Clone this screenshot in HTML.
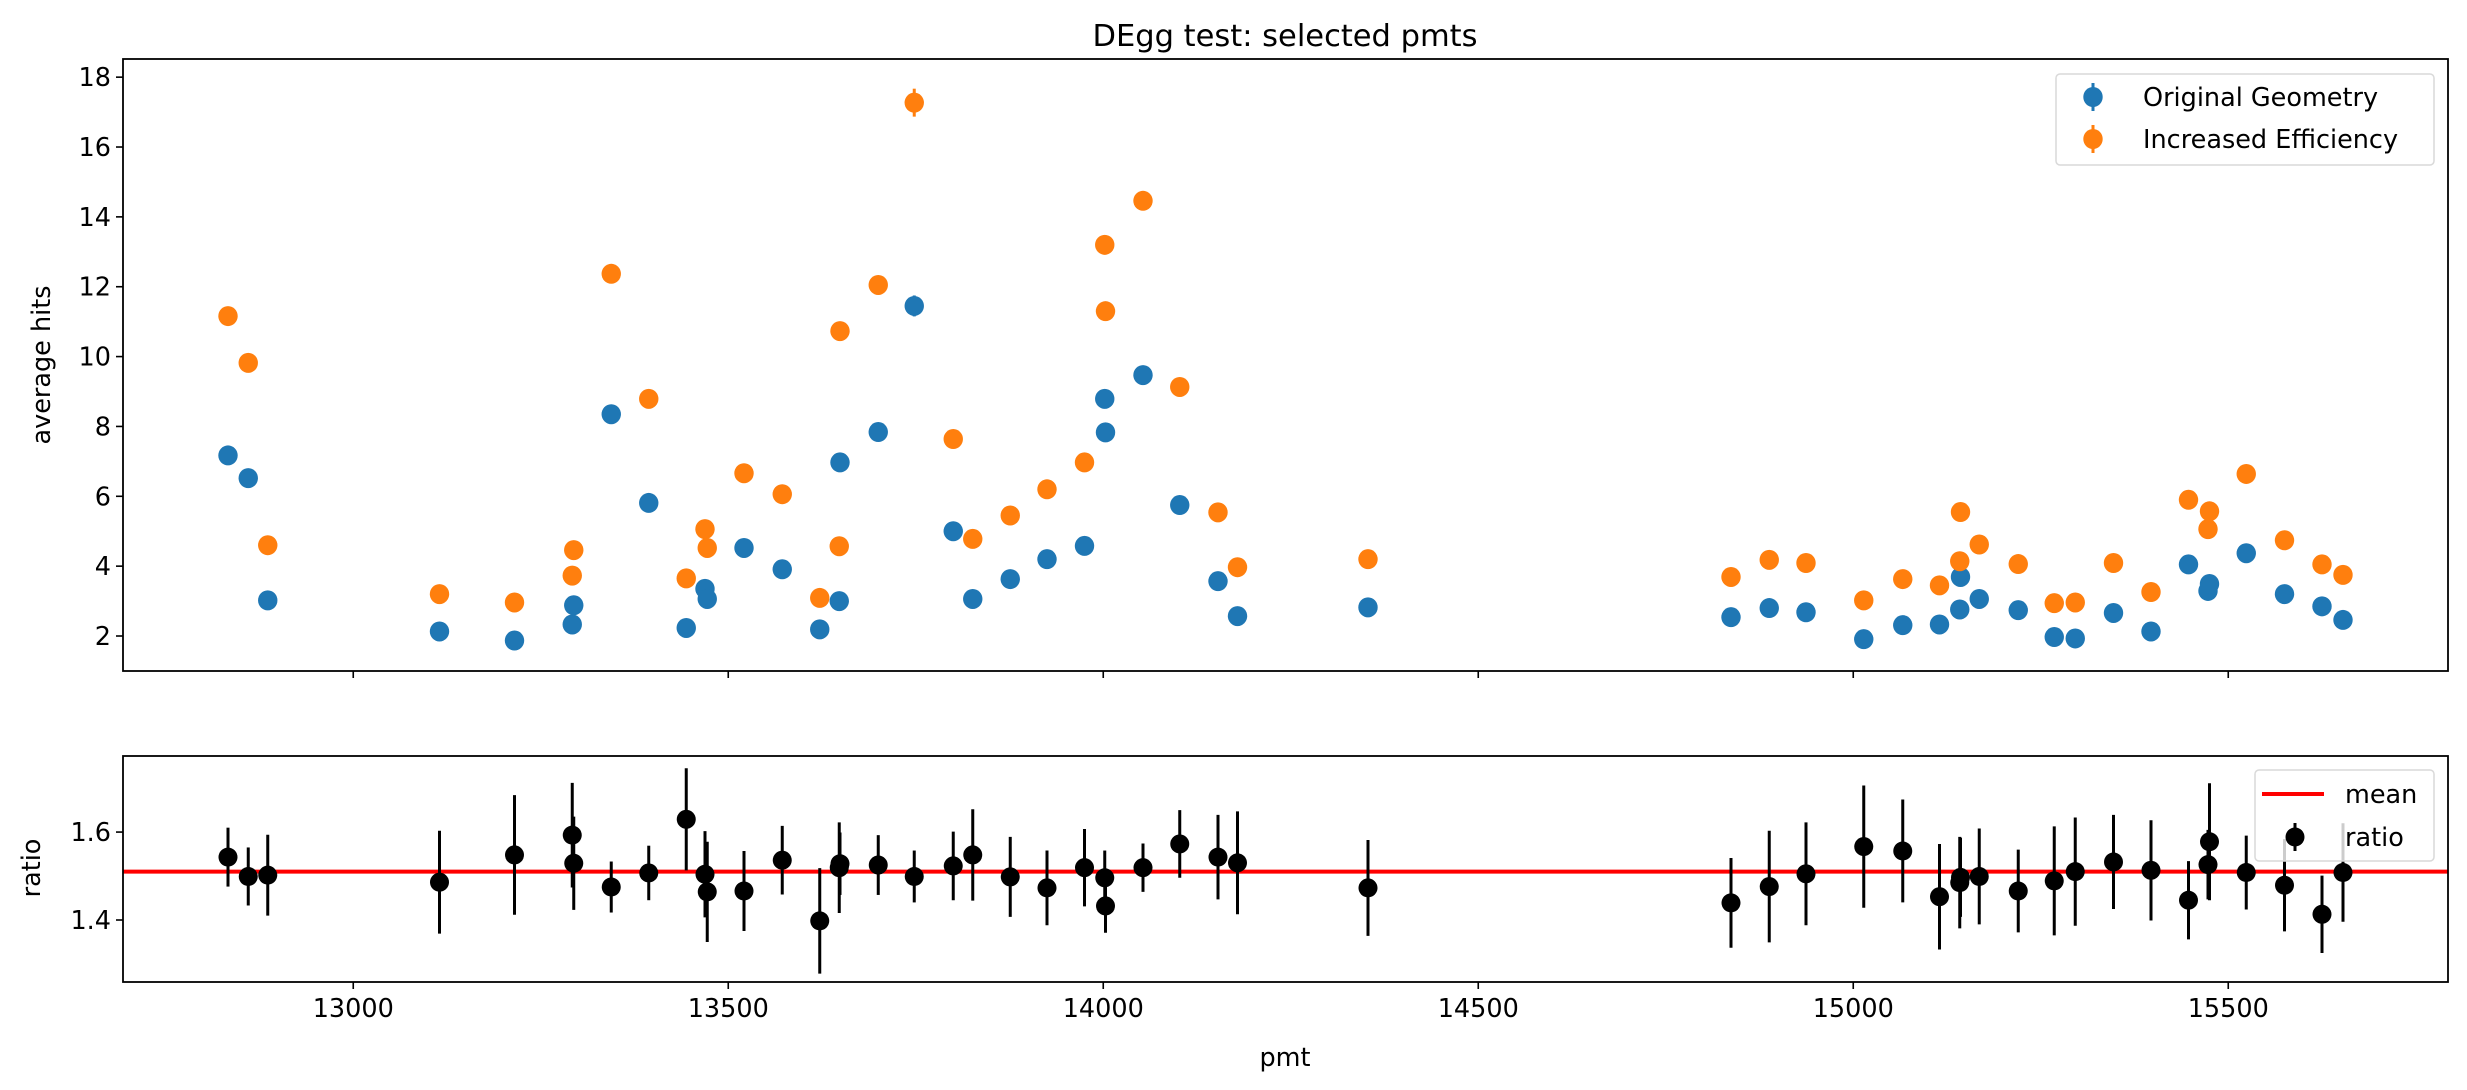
<!DOCTYPE html>
<html><head><meta charset="utf-8"><style>
html,body{margin:0;padding:0;background:#fff;}
svg{display:block;font-family:"DejaVu Sans","Liberation Sans",sans-serif;}
</style></head><body>
<svg id="chart" width="2467" height="1090" viewBox="0 0 2467 1090" xmlns="http://www.w3.org/2000/svg">
<rect x="0" y="0" width="2467" height="1090" fill="#fff"/>
<text x="1285" y="46" font-size="30.5" text-anchor="middle">DEgg test: selected pmts</text>
<text transform="translate(50,365) rotate(-90)" font-size="25.5" text-anchor="middle">average hits</text>
<text transform="translate(40,868) rotate(-90)" font-size="25.5" text-anchor="middle">ratio</text>
<text x="1285" y="1066" font-size="25.5" text-anchor="middle">pmt</text>
<g id="topAxes"></g>
<g id="botAxes"></g>
</svg>
<script>
const pmts = [12833,12860,12886,13115,13215,13292,13294,13344,13394,13444,13469,13472,13521,13572,13622,13648,13649,13700,13748,13800,13826,13876,13925,13975,14002,14003,14053,14102,14153,14179,14353,14837,14888,14937,15014,15066,15115,15142,15143,15168,15220,15268,15296,15347,15397,15447,15473,15475,15524,15575,15625,15653];
const origHits = [7.17,6.52,3.02,2.13,1.87,2.33,2.88,8.35,5.81,2.23,3.35,3.06,4.52,3.91,2.19,3.0,6.97,7.84,11.45,5.0,3.06,3.63,4.2,4.58,8.79,7.83,9.47,5.75,3.57,2.57,2.82,2.54,2.8,2.68,1.91,2.31,2.33,2.76,3.69,3.06,2.74,1.97,1.93,2.66,2.13,4.05,3.29,3.49,4.37,3.2,2.85,2.46];
const origErr = [0.12,0.1,0.06,0.05,0.05,0.05,0.06,0.15,0.1,0.05,0.06,0.06,0.08,0.07,0.05,0.06,0.12,0.14,0.3,0.09,0.06,0.07,0.08,0.08,0.15,0.14,0.15,0.1,0.07,0.05,0.06,0.05,0.06,0.05,0.05,0.05,0.05,0.06,0.07,0.06,0.05,0.05,0.05,0.05,0.05,0.07,0.06,0.07,0.08,0.06,0.06,0.05];
const incHits = [11.16,9.82,4.6,3.2,2.96,3.73,4.46,12.37,8.79,3.65,5.06,4.52,6.66,6.06,3.09,4.57,10.73,12.05,17.27,7.64,4.78,5.45,6.2,6.97,13.2,11.3,14.46,9.13,5.54,3.97,4.2,3.69,4.18,4.09,3.02,3.63,3.45,4.14,5.55,4.62,4.06,2.94,2.96,4.09,3.26,5.9,5.06,5.57,6.64,4.74,4.05,3.75];
const incErr = [0.22,0.18,0.08,0.07,0.07,0.08,0.09,0.2,0.14,0.07,0.1,0.09,0.12,0.11,0.07,0.09,0.18,0.25,0.4,0.13,0.09,0.1,0.11,0.12,0.28,0.25,0.25,0.15,0.1,0.08,0.08,0.07,0.08,0.08,0.06,0.07,0.07,0.08,0.1,0.09,0.08,0.06,0.06,0.08,0.07,0.11,0.1,0.1,0.12,0.09,0.08,0.07];
const ratioVals = [1.543,1.499,1.502,1.486,1.548,1.593,1.529,1.475,1.507,1.629,1.504,1.464,1.466,1.536,1.398,1.519,1.528,1.525,1.499,1.523,1.548,1.498,1.473,1.519,1.496,1.432,1.519,1.573,1.543,1.53,1.473,1.439,1.476,1.505,1.567,1.557,1.453,1.485,1.497,1.499,1.466,1.489,1.51,1.532,1.513,1.445,1.526,1.578,1.508,1.479,1.413,1.508];
const ratioErr = [0.067,0.066,0.092,0.117,0.136,0.119,0.106,0.058,0.062,0.116,0.098,0.114,0.091,0.078,0.12,0.103,0.071,0.068,0.059,0.078,0.104,0.091,0.085,0.088,0.062,0.061,0.055,0.077,0.096,0.117,0.109,0.102,0.127,0.117,0.139,0.117,0.12,0.104,0.09,0.109,0.094,0.124,0.123,0.107,0.114,0.089,0.079,0.133,0.084,0.105,0.088,0.112];
const meanRatio = 1.51;
const xTicks = [13000,13500,14000,14500,15000,15500];
const yTicksTop = [2,4,6,8,10,12,14,16,18];
const yTicksBot = [1.4,1.6];

const NS = "http://www.w3.org/2000/svg";
const L = 123, R = 2448;
const X0 = 12693, X1 = 15793;
const T1 = 59, B1 = 671, Y1min = 0.998, Y1max = 18.52;
const T2 = 756, B2 = 982, Y2min = 1.259, Y2max = 1.773;
const FS = 25.5;
const xs = v => L + (v - X0) / (X1 - X0) * (R - L);
const ys1 = v => B1 - (v - Y1min) / (Y1max - Y1min) * (B1 - T1);
const ys2 = v => B2 - (v - Y2min) / (Y2max - Y2min) * (B2 - T2);

function mk(tag, attrs, parent) {
  const e = document.createElementNS(NS, tag);
  for (const k in attrs) e.setAttribute(k, attrs[k]);
  parent.appendChild(e);
  return e;
}
const gTop = document.getElementById('topAxes');
const gBot = document.getElementById('botAxes');

for (const t of yTicksTop) {
  const y = ys1(t);
  const tk = mk('line', {x1: L - 7, x2: L, y1: y, y2: y, stroke: '#000', 'stroke-width': 1.6}, gTop);
  
  
  const tx = mk('text', {x: L - 12, y: y + 9, 'font-size': FS, 'text-anchor': 'end'}, gTop);
  tx.textContent = String(t);
  
  
}
for (const t of yTicksBot) {
  const y = ys2(t);
  const tk = mk('line', {x1: L - 7, x2: L, y1: y, y2: y, stroke: '#000', 'stroke-width': 1.6}, gBot);
  
  
  const tx = mk('text', {x: L - 12, y: y + 9, 'font-size': FS, 'text-anchor': 'end'}, gBot);
  tx.textContent = t.toFixed(1);
  
  
}
for (const t of xTicks) {
  const x = xs(t);
  const a = mk('line', {x1: x, x2: x, y1: B1, y2: B1 + 7, stroke: '#000', 'stroke-width': 1.6}, gTop);
  
  
  const b = mk('line', {x1: x, x2: x, y1: B2, y2: B2 + 7, stroke: '#000', 'stroke-width': 1.6}, gBot);
  
  
  const tx = mk('text', {x: x, y: B2 + 35, 'font-size': FS, 'text-anchor': 'middle'}, gBot);
  tx.textContent = String(t);
  
  
}

function series(vals, errs, color, name) {
  const g = mk('g', {}, gTop);
  
  
  for (let i = 0; i < pmts.length; i++) {
    const x = xs(pmts[i]);
    const e = mk('line', {x1: x, x2: x, y1: ys1(vals[i] - errs[i]), y2: ys1(vals[i] + errs[i]), stroke: color, 'stroke-width': 3}, g);
    
    
    const c = mk('ellipse', {cx: x, cy: ys1(vals[i]), rx: 9.7, ry: 10, fill: color}, g);
    
    
  }
}
series(origHits, origErr, '#1f77b4', 'original-geometry');
series(incHits, incErr, '#ff7f0e', 'increased-efficiency');

const ml = mk('line', {x1: L, x2: R, y1: ys2(meanRatio), y2: ys2(meanRatio), stroke: '#ff0000', 'stroke-width': 4}, gBot);


const rg = mk('g', {}, gBot);


for (let i = 0; i < pmts.length; i++) {
  const x = xs(pmts[i]);
  const e = mk('line', {x1: x, x2: x, y1: ys2(ratioVals[i] - ratioErr[i]), y2: ys2(ratioVals[i] + ratioErr[i]), stroke: '#000', 'stroke-width': 3}, rg);
  
  
  const c = mk('ellipse', {cx: x, cy: ys2(ratioVals[i]), rx: 9.5, ry: 9.5, fill: '#000'}, rg);
  
  
}

const f1 = mk('rect', {x: L, y: T1, width: R - L, height: B1 - T1, fill: 'none', stroke: '#000', 'stroke-width': 1.8}, gTop);


const f2 = mk('rect', {x: L, y: T2, width: R - L, height: B2 - T2, fill: 'none', stroke: '#000', 'stroke-width': 1.8}, gBot);



const lg1 = mk('g', {}, gTop);


mk('rect', {x: 2056, y: 74, width: 378, height: 91, rx: 4, fill: '#fff', 'fill-opacity': 0.8, stroke: '#d9d9d9', 'stroke-width': 1.5}, lg1);
[['#1f77b4', 'Original Geometry', 97], ['#ff7f0e', 'Increased Efficiency', 139]].forEach(([c, t, y]) => {
  mk('line', {x1: 2093, x2: 2093, y1: y - 14, y2: y + 14, stroke: c, 'stroke-width': 3}, lg1);
  mk('ellipse', {cx: 2093, cy: y, rx: 9.7, ry: 10, fill: c}, lg1);
  const tx = mk('text', {x: 2143, y: y + 9, 'font-size': FS}, lg1);
  tx.textContent = t;
  
  
});
const lg2 = mk('g', {}, gBot);


mk('rect', {x: 2255, y: 770, width: 179, height: 91, rx: 4, fill: '#fff', 'fill-opacity': 0.8, stroke: '#d9d9d9', 'stroke-width': 1.5}, lg2);
mk('line', {x1: 2262, x2: 2324, y1: 794, y2: 794, stroke: '#ff0000', 'stroke-width': 4}, lg2);
const t1 = mk('text', {x: 2345, y: 803, 'font-size': FS}, lg2);
t1.textContent = 'mean';


mk('line', {x1: 2295, x2: 2295, y1: 823, y2: 851, stroke: '#000', 'stroke-width': 3}, lg2);
mk('ellipse', {cx: 2295, cy: 837, rx: 9.5, ry: 9.5, fill: '#000'}, lg2);
const t2 = mk('text', {x: 2345, y: 846, 'font-size': FS}, lg2);
t2.textContent = 'ratio';


</script>
</body></html>
